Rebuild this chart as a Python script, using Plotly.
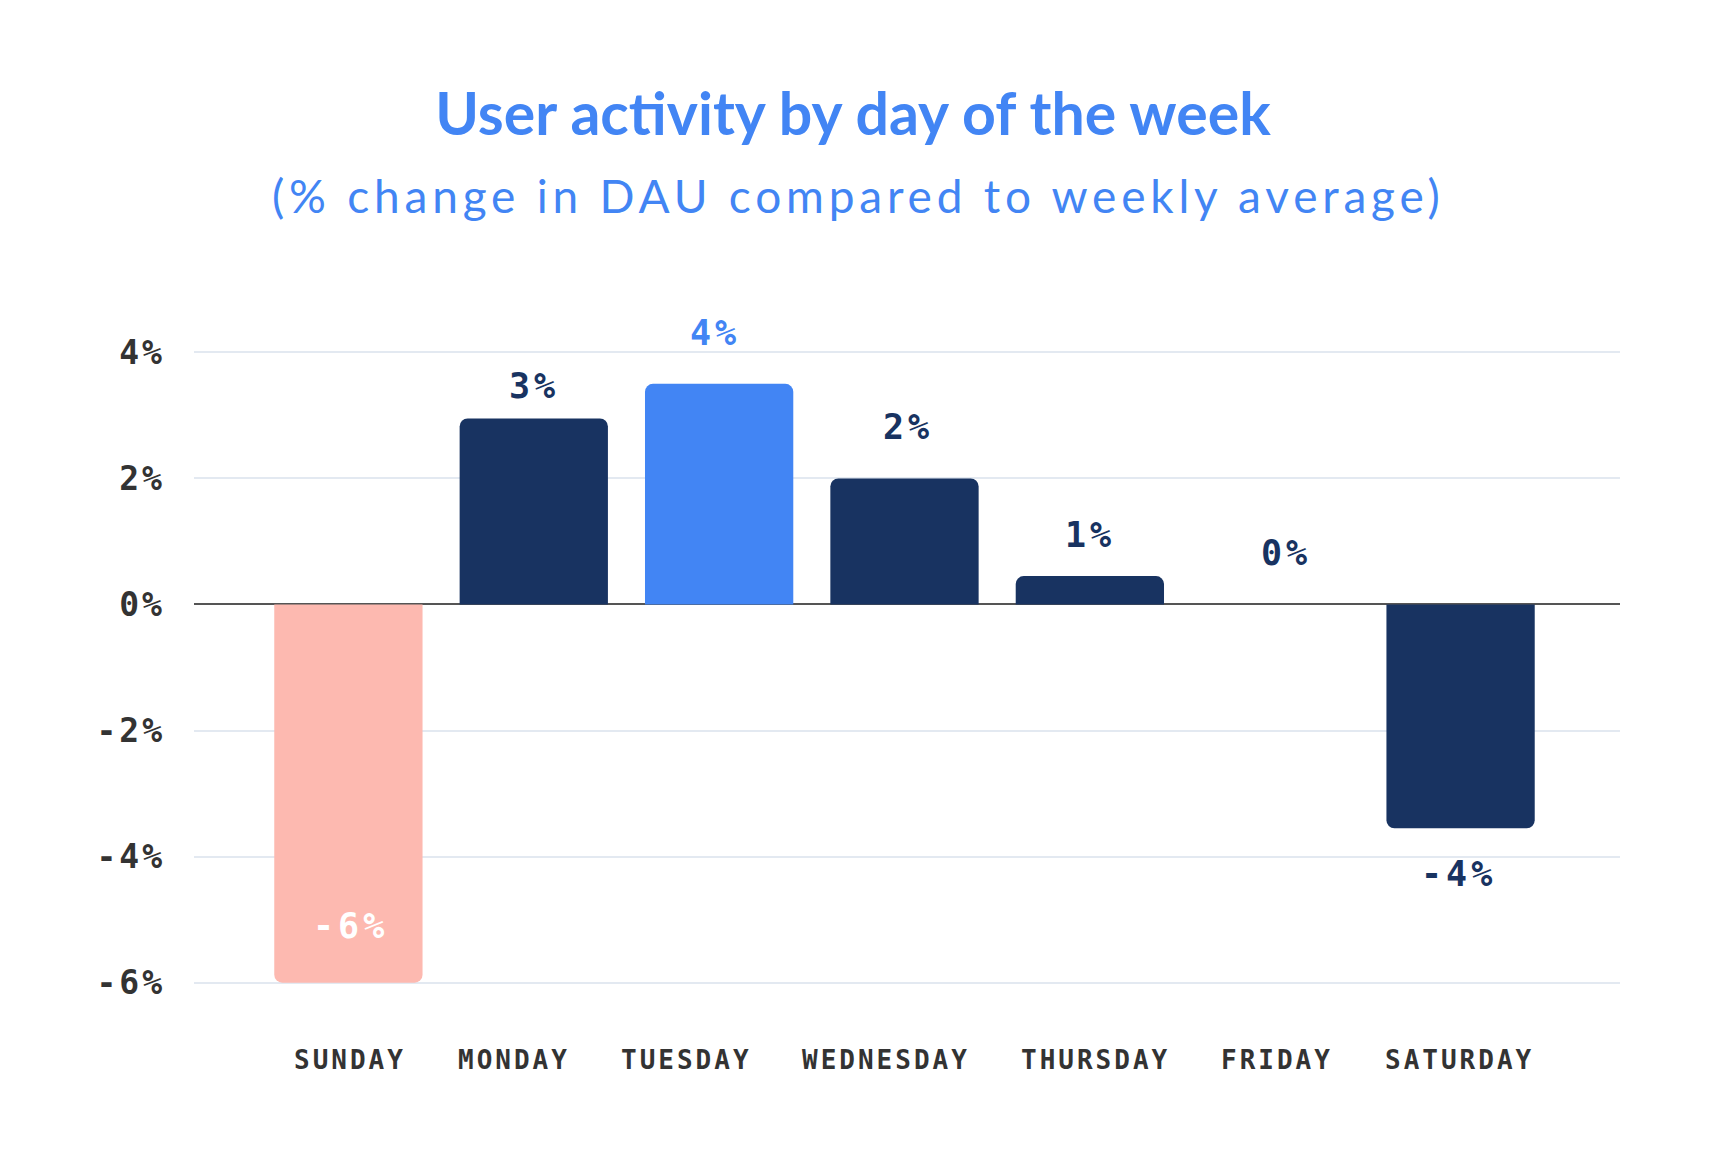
import plotly.graph_objects as go

days = ['SUNDAY', 'MONDAY', 'TUESDAY', 'WEDNESDAY', 'THURSDAY', 'FRIDAY', 'SATURDAY']
dau_change = [-6.0, 2.95, 3.5, 2.0, 0.45, 0.0, -3.55]
value_labels = ['-6%', '3%', '4%', '2%', '1%', '0%', '-4%']
y_ticks = [-6, -4, -2, 0, 2, 4]
y_tick_labels = ['-6%', '-4%', '-2%', '0%', '2%', '4%']

NAVY = '#183361'
BLUE = '#4285F4'
SALMON = '#FDB9B0'
MONO = 'DejaVu Sans Mono'

bar_colors = [SALMON, NAVY, BLUE, NAVY, NAVY, NAVY, NAVY]
label_colors = ['white', NAVY, BLUE, NAVY, NAVY, NAVY, NAVY]
# hand-placed label nudges (px), like the original artwork
label_dy = [57, 33, 51, 51, 41, 51, -46]
label_dx = [2, 0, -4, 3, 0, 11, -2]
day_dx = [0, -22, -35, -21, 4, 0, -3]


def spaced(s, px):
    return f'<span style="letter-spacing:{px}px">{s}</span>'


fig = go.Figure(go.Bar(
    x=days, y=dau_change,
    width=0.8,
    marker=dict(color=bar_colors, cornerradius=8, line_width=0),
    hoverinfo='skip',
))

for day, v, txt, col, dy, dx in zip(days, dau_change, value_labels, label_colors, label_dy, label_dx):
    fig.add_annotation(x=day, y=v, text='<b>' + spaced(txt, 4) + '</b>', showarrow=False,
                       yanchor='middle', xshift=dx, yshift=dy,
                       font=dict(family=MONO, size=35, color=col))

# day names under the plot
for day, dx in zip(days, day_dx):
    fig.add_annotation(x=day, y=0, yref='paper', text='<b>' + spaced(day, 3) + '</b>',
                       showarrow=False, yanchor='middle', xshift=dx + 2, yshift=-71,
                       font=dict(family=MONO, size=26, color='#333333'))

fig.add_annotation(text=spaced('(% change in DAU compared to weekly average)', 4.8),
                   xref='paper', yref='paper', x=0.466, y=1.2348, yanchor='middle',
                   showarrow=False, font=dict(family='Lato', size=46, color=BLUE))

fig.update_layout(
    width=1712, height=1162,
    paper_bgcolor='white', plot_bgcolor='white',
    margin=dict(l=186, r=100, t=338, b=181),
    showlegend=False,
    title=dict(text='<b>User activity by day of the week</b>',
               x=0.4936, xanchor='center', y=1 - 106 / 1162, yanchor='middle',
               font=dict(family='Lato', size=59, color=BLUE)),
)
fig.update_xaxes(range=[-0.833, 6.86], showgrid=False, showline=False, zeroline=False,
                 showticklabels=False, ticks='')
fig.update_yaxes(range=[-6.1, 4.1], tickvals=y_ticks,
                 ticktext=[spaced(t, 3) for t in y_tick_labels],
                 showgrid=True, gridcolor='#E3E9F1', gridwidth=2,
                 zeroline=True, zerolinecolor='#555555', zerolinewidth=1.5,
                 showline=False, ticks='', ticklabelstandoff=28,
                 tickfont=dict(family=MONO, size=33, color='#333333', weight='bold'))

fig.write_html('out.html')
